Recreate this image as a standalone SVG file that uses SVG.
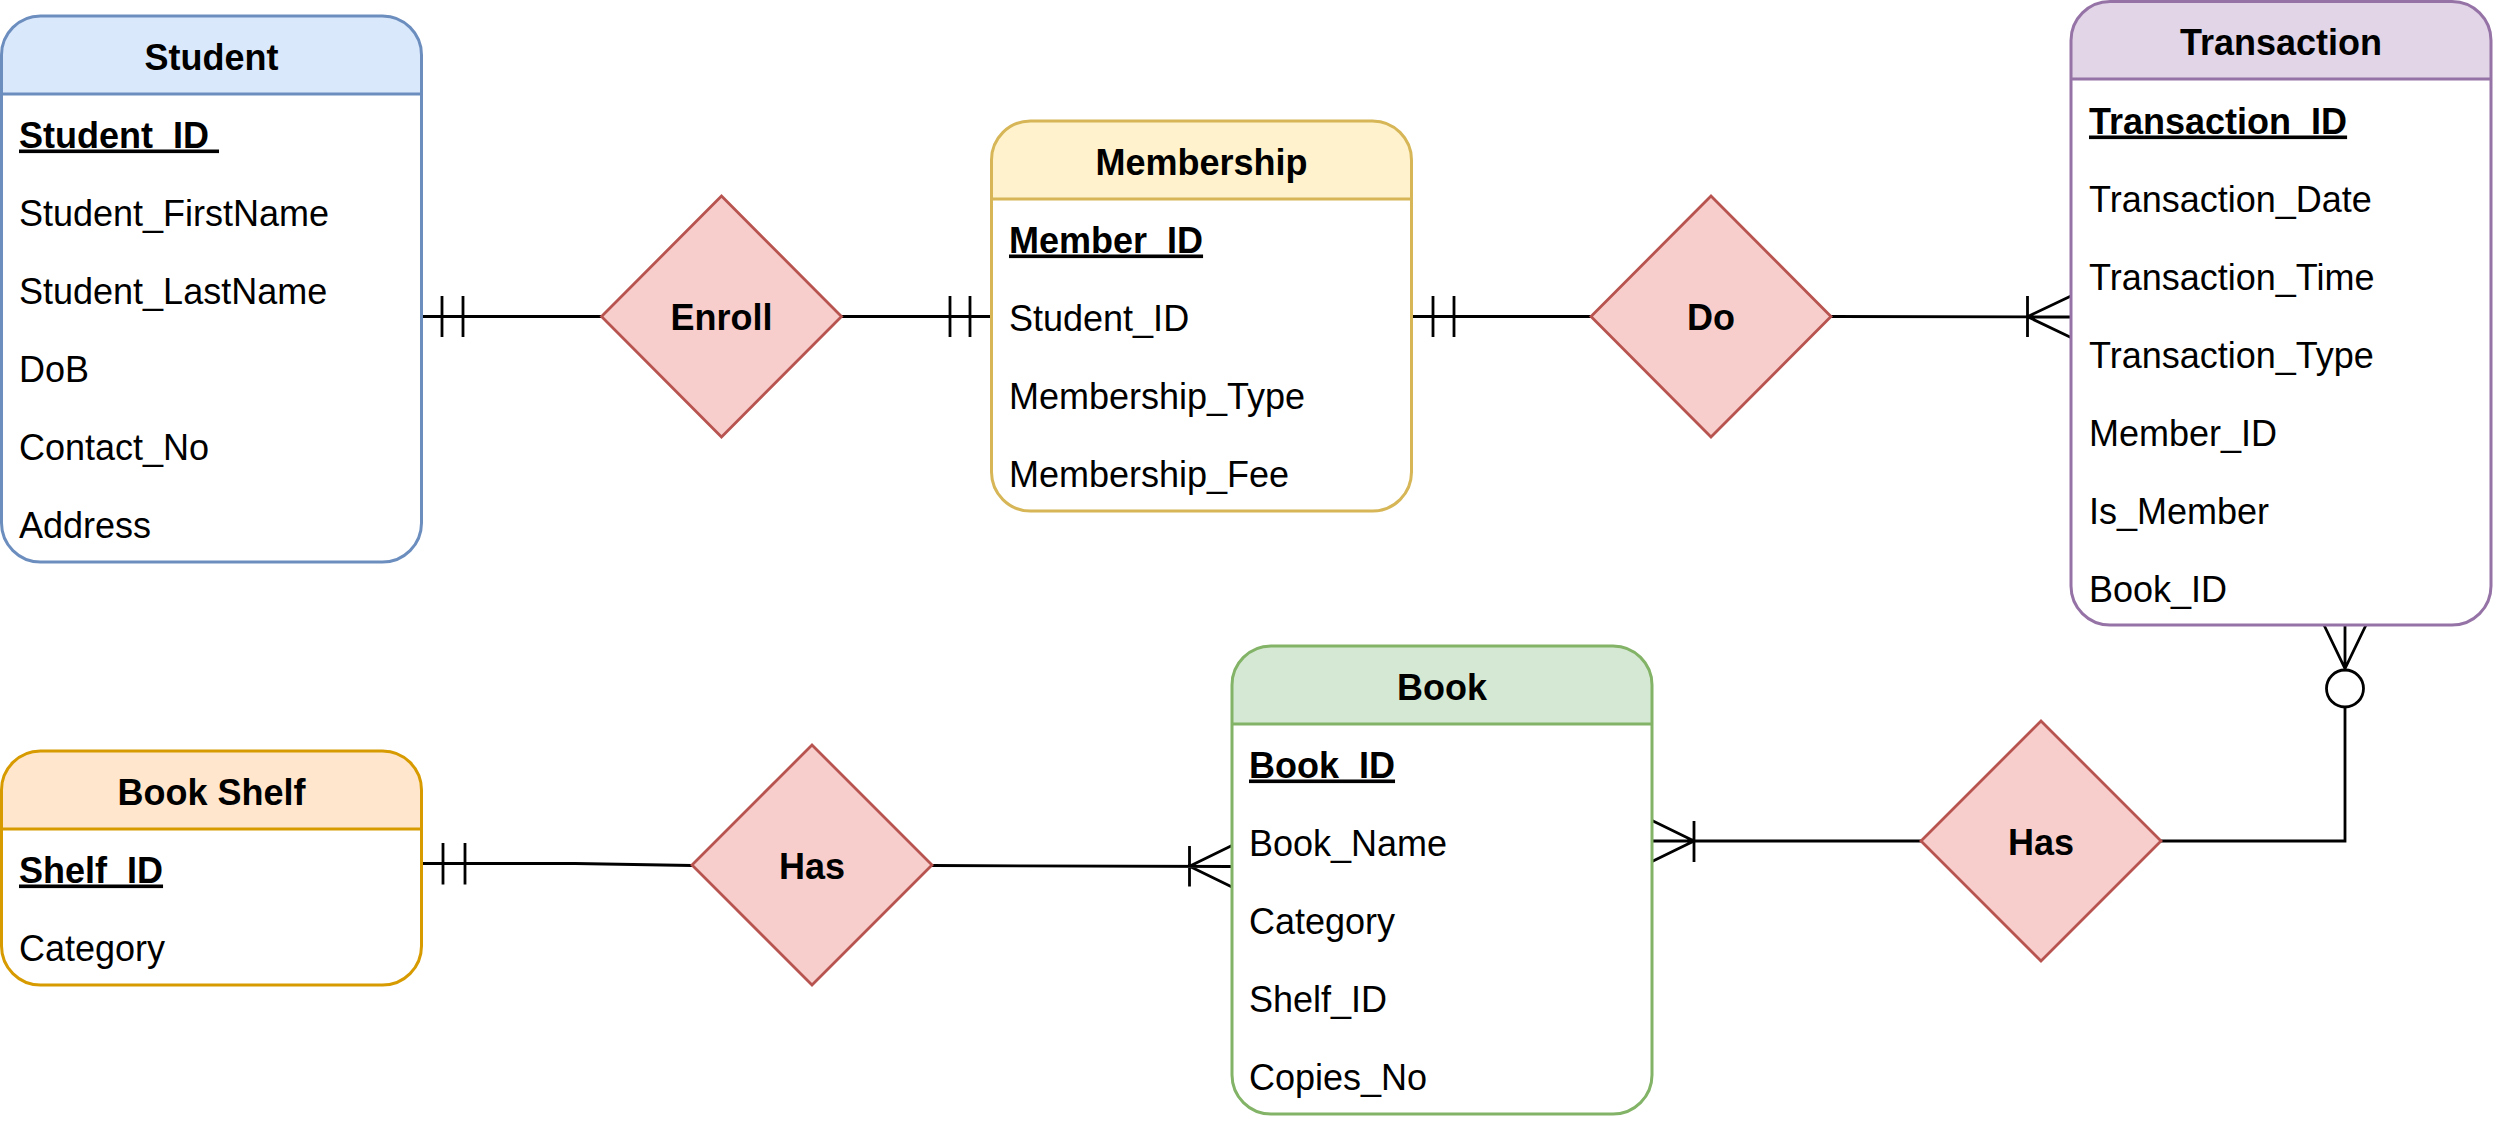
<svg xmlns="http://www.w3.org/2000/svg" width="2493" height="1125" viewBox="0 0 2493 1125">
<style>
.t{font-family:"Liberation Sans",Arial,sans-serif;font-size:36px;fill:#000}
.b{font-weight:bold}
.c{text-anchor:middle}
.u{text-decoration:underline}
.frame{fill:none;stroke-width:3}
.body{fill:#fff;stroke:none}
.conn{fill:none;stroke:#000;stroke-width:2.8}
.dia{fill:#f8cecc;stroke:#b85450;stroke-width:2.8}
</style>
<rect width="2493" height="1125" fill="#fff"/>

<g id="connectors">
  <!-- Student - Enroll -->
  <path class="conn" d="M421.5,316.5 H601.5 M442,296 V337 M463,296 V337"/>
  <!-- Enroll - Membership -->
  <path class="conn" d="M841.5,316.5 H991.5 M950,296 V337 M970,296 V337"/>
  <!-- Membership - Do -->
  <path class="conn" d="M1411.5,316.5 H1591 M1433,296 V337 M1454,296 V337"/>
  <!-- Do - Transaction (one-to-many) -->
  <path class="conn" d="M1831,316.5 L2071,317 M2027.5,296 V337 M2071,296 L2027.5,316.7 L2071,337.5"/>
  <!-- Book Shelf - Has -->
  <path class="conn" d="M421.5,863.5 H575 L692,865.5 M443,843 V884.5 M465,843 V884.5"/>
  <!-- Has - Book (one-to-many) -->
  <path class="conn" d="M932,865.5 L1232,866.5 M1189.5,846 V886.5 M1232,845.5 L1189.5,866.2 L1232,887"/>
  <!-- Book - Has (one-to-many) -->
  <path class="conn" d="M1652,841 H1921.5 M1694,821 V862 M1652,820.5 L1694,841 L1652,861.5"/>
  <!-- Has - Transaction (zero-to-many) -->
  <path class="conn" d="M2161,841 H2345 V707 M2345,670 V625 M2324,625 L2345,668.5 L2366,625"/>
  <circle class="conn" cx="2345" cy="688.5" r="18.5" fill="#fff"/>
</g>

<g id="student">
  <rect class="body" x="1.5" y="16" width="420" height="546" rx="39"/>
  <path d="M1.5,94 V55 A39,39 0 0 1 40.5,16 H382.5 A39,39 0 0 1 421.5,55 V94 Z" fill="#dae8fc"/>
  <line x1="1.5" y1="94" x2="421.5" y2="94" stroke="#6c8ebf" stroke-width="3"/>
  <rect class="frame" x="1.5" y="16" width="420" height="546" rx="39" stroke="#6c8ebf"/>
  <text class="t b c" x="211.5" y="69.5">Student</text>
  <text class="t b u" x="19" y="147.5" xml:space="preserve">Student_ID </text>
  <text class="t" x="19" y="225.5">Student_FirstName</text>
  <text class="t" x="19" y="303.5">Student_LastName</text>
  <text class="t" x="19" y="381.5">DoB</text>
  <text class="t" x="19" y="459.5">Contact_No</text>
  <text class="t" x="19" y="537.5">Address</text>
</g>

<g id="enroll">
  <polygon class="dia" points="721.5,196 841.5,316.5 721.5,437 601.5,316.5"/>
  <text class="t b c" x="721.5" y="330">Enroll</text>
</g>

<g id="membership">
  <rect class="body" x="991.5" y="121" width="420" height="390" rx="39"/>
  <path d="M991.5,199 V160 A39,39 0 0 1 1030.5,121 H1372.5 A39,39 0 0 1 1411.5,160 V199 Z" fill="#fff2cc"/>
  <line x1="991.5" y1="199" x2="1411.5" y2="199" stroke="#d6b656" stroke-width="3"/>
  <rect class="frame" x="991.5" y="121" width="420" height="390" rx="39" stroke="#d6b656"/>
  <text class="t b c" x="1201.5" y="174.5">Membership</text>
  <text class="t b u" x="1009" y="252.5">Member_ID</text>
  <text class="t" x="1009" y="330.5">Student_ID</text>
  <text class="t" x="1009" y="408.5">Membership_Type</text>
  <text class="t" x="1009" y="486.5">Membership_Fee</text>
</g>

<g id="do">
  <polygon class="dia" points="1711,196 1831,316.5 1711,437 1591,316.5"/>
  <text class="t b c" x="1711" y="330">Do</text>
</g>

<g id="transaction">
  <rect class="body" x="2071" y="1.5" width="420" height="623.5" rx="39"/>
  <path d="M2071,79 V40.5 A39,39 0 0 1 2110,1.5 H2452 A39,39 0 0 1 2491,40.5 V79 Z" fill="#e1d5e7"/>
  <line x1="2071" y1="79" x2="2491" y2="79" stroke="#9673a6" stroke-width="3"/>
  <rect class="frame" x="2071" y="1.5" width="420" height="623.5" rx="39" stroke="#9673a6"/>
  <text class="t b c" x="2281" y="54.5">Transaction</text>
  <text class="t b u" x="2089" y="133.5">Transaction_ID</text>
  <text class="t" x="2089" y="211.5">Transaction_Date</text>
  <text class="t" x="2089" y="289.5">Transaction_Time</text>
  <text class="t" x="2089" y="367.5">Transaction_Type</text>
  <text class="t" x="2089" y="445.5">Member_ID</text>
  <text class="t" x="2089" y="523.5">Is_Member</text>
  <text class="t" x="2089" y="601.5">Book_ID</text>
</g>

<g id="book-shelf">
  <rect class="body" x="1.5" y="751" width="420" height="234" rx="39"/>
  <path d="M1.5,829 V790 A39,39 0 0 1 40.5,751 H382.5 A39,39 0 0 1 421.5,790 V829 Z" fill="#ffe6cc"/>
  <line x1="1.5" y1="829" x2="421.5" y2="829" stroke="#d79b00" stroke-width="3"/>
  <rect class="frame" x="1.5" y="751" width="420" height="234" rx="39" stroke="#d79b00"/>
  <text class="t b c" x="211.5" y="804.5">Book Shelf</text>
  <text class="t b u" x="19" y="882.5">Shelf_ID</text>
  <text class="t" x="19" y="960.5">Category</text>
</g>

<g id="has-shelf">
  <polygon class="dia" points="812,745 932,865 812,985 692,865"/>
  <text class="t b c" x="812" y="879">Has</text>
</g>

<g id="book">
  <rect class="body" x="1232" y="646" width="420" height="468" rx="39"/>
  <path d="M1232,724 V685 A39,39 0 0 1 1271,646 H1613 A39,39 0 0 1 1652,685 V724 Z" fill="#d5e8d4"/>
  <line x1="1232" y1="724" x2="1652" y2="724" stroke="#82b366" stroke-width="3"/>
  <rect class="frame" x="1232" y="646" width="420" height="468" rx="39" stroke="#82b366"/>
  <text class="t b c" x="1442" y="699.5">Book</text>
  <text class="t b u" x="1249" y="777.5">Book_ID</text>
  <text class="t" x="1249" y="855.5">Book_Name</text>
  <text class="t" x="1249" y="933.5">Category</text>
  <text class="t" x="1249" y="1011.5">Shelf_ID</text>
  <text class="t" x="1249" y="1089.5">Copies_No</text>
</g>

<g id="has-transaction">
  <polygon class="dia" points="2041,721 2161,841 2041,961 1921,841"/>
  <text class="t b c" x="2041" y="855">Has</text>
</g>
</svg>
